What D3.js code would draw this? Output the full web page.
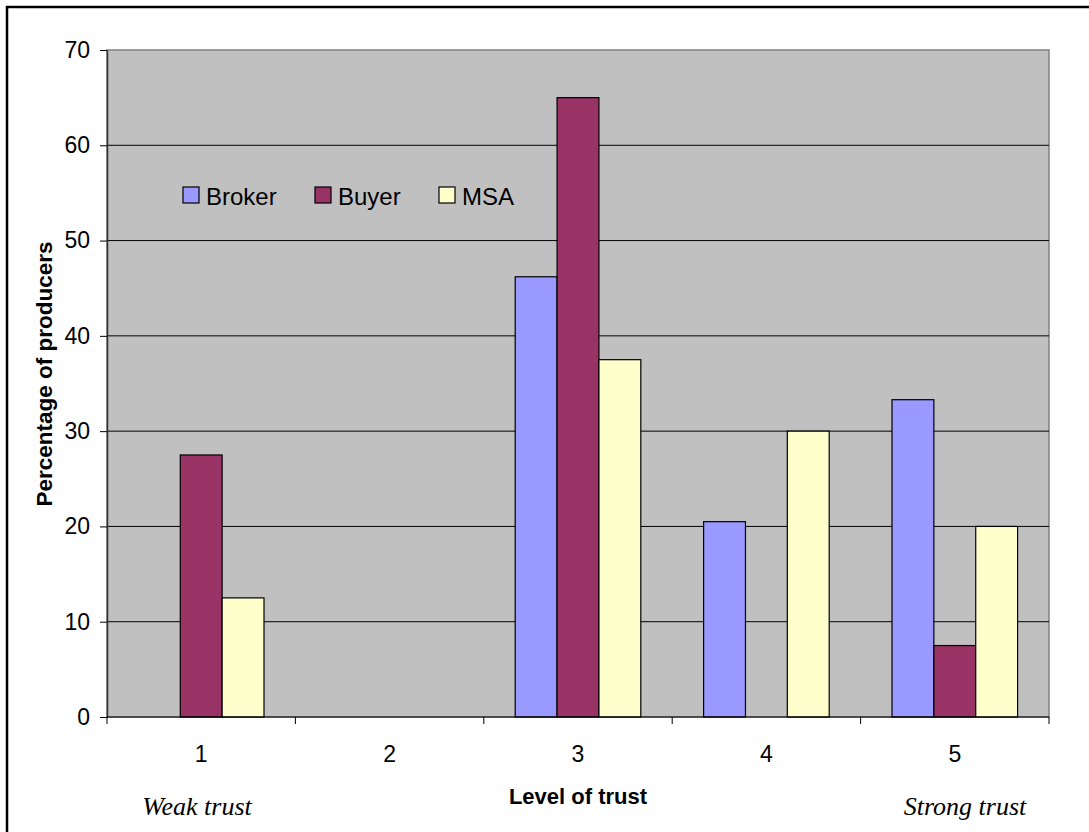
<!DOCTYPE html>
<html>
<head>
<meta charset="utf-8">
<script src="https://cdn.jsdelivr.net/npm/d3@7"></script>
<style>
  html, body { margin: 0; padding: 0; background: #fff; }
  svg { display: block; }
</style>
</head>
<body>
<script>
// Trust levels reported by producers for each market actor
const categories = ["1", "2", "3", "4", "5"];
const seriesNames = ["Broker", "Buyer", "MSA"];
const brokerValues = [0, 0, 46.2, 20.5, 33.3];
const buyerValues = [27.5, 0, 65, 0, 7.5];
const msaValues = [12.5, 0, 37.5, 30, 20];
const yTicks = [0, 10, 20, 30, 40, 50, 60, 70];
const seriesColors = ["#9999FF", "#993366", "#FFFFCC"];

const W = 1089, H = 832;
const plot = { left: 107, right: 1049, top: 50, bottom: 717 };

const svg = d3.select("body").append("svg").attr("width", W).attr("height", H);
svg.append("rect").attr("width", W).attr("height", H).attr("fill", "#fff");

// outer frame (runs off the right and bottom edges)
svg.append("rect")
  .attr("x", 7).attr("y", 7).attr("width", W + 20).attr("height", H + 20)
  .attr("fill", "none").attr("stroke", "#000").attr("stroke-width", 2.5);

const x = d3.scaleBand().domain(categories).range([plot.left, plot.right]).paddingInner(0).paddingOuter(0);
const xs = d3.scaleBand().domain(seriesNames).range([0, x.bandwidth()]).paddingInner(0).paddingOuter(0.75);
const y = d3.scaleLinear().domain([0, 70]).range([plot.bottom, plot.top]);

// plot background
svg.append("rect")
  .attr("x", plot.left).attr("y", plot.top)
  .attr("width", plot.right - plot.left).attr("height", plot.bottom - plot.top)
  .attr("fill", "#C0C0C0").attr("stroke", "#808080").attr("stroke-width", 1.5);

// horizontal gridlines
svg.append("g").selectAll("line")
  .data(yTicks.filter(t => t > 0 && t < 70))
  .join("line")
  .attr("x1", plot.left).attr("x2", plot.right)
  .attr("y1", d => y(d)).attr("y2", d => y(d))
  .attr("stroke", "#000").attr("stroke-width", 1);

// bars
const series = [brokerValues, buyerValues, msaValues];
const rows = [];
categories.forEach((c, i) => {
  seriesNames.forEach((s, j) => rows.push({ cat: c, name: s, value: series[j][i], color: seriesColors[j] }));
});
svg.append("g").selectAll("rect")
  .data(rows.filter(d => d.value > 0))
  .join("rect")
  .attr("x", d => x(d.cat) + xs(d.name))
  .attr("y", d => y(d.value))
  .attr("width", xs.bandwidth())
  .attr("height", d => y(0) - y(d.value))
  .attr("fill", d => d.color)
  .attr("stroke", "#000").attr("stroke-width", 1.2);

// y axis
const yAxis = d3.axisLeft(y).tickValues(yTicks).tickSize(7).tickPadding(10).tickSizeOuter(0);
const gy = svg.append("g").attr("transform", `translate(${plot.left},0)`).call(yAxis);
gy.select(".domain").attr("stroke", "#333").attr("stroke-width", 1.5);
gy.selectAll(".tick line").attr("stroke", "#000");
gy.selectAll(".tick text")
  .attr("font-family", "Liberation Sans, Arial, sans-serif")
  .attr("font-size", 23).attr("fill", "#000");

// x axis: ticks on band boundaries
const gx = svg.append("g");
gx.append("line")
  .attr("x1", plot.left).attr("x2", plot.right)
  .attr("y1", plot.bottom).attr("y2", plot.bottom)
  .attr("stroke", "#000").attr("stroke-width", 1.2);
const bounds = categories.map(c => x(c)).concat([x(categories[categories.length - 1]) + x.bandwidth()]);
gx.selectAll("line.tick").data(bounds).join("line").attr("class", "tick")
  .attr("x1", d => d).attr("x2", d => d)
  .attr("y1", plot.bottom).attr("y2", plot.bottom + 7)
  .attr("stroke", "#000");
gx.selectAll("text").data(categories).join("text")
  .attr("x", d => x(d) + x.bandwidth() / 2)
  .attr("y", 762)
  .attr("text-anchor", "middle")
  .attr("font-family", "Liberation Sans, Arial, sans-serif")
  .attr("font-size", 23)
  .text(d => d);

// axis titles
svg.append("text")
  .attr("transform", "translate(52,374) rotate(-90)")
  .attr("text-anchor", "middle")
  .attr("font-family", "Liberation Sans, Arial, sans-serif")
  .attr("font-size", 22.5).attr("font-weight", "bold")
  .text("Percentage of producers");

svg.append("text")
  .attr("x", 578).attr("y", 804)
  .attr("text-anchor", "middle")
  .attr("font-family", "Liberation Sans, Arial, sans-serif")
  .attr("font-size", 22).attr("font-weight", "bold")
  .text("Level of trust");

// scale end notes
const endNotes = [
  { text: "Weak trust", cx: 197 },
  { text: "Strong trust", cx: 965 }
];
svg.append("g").selectAll("text").data(endNotes).join("text")
  .attr("x", d => d.cx).attr("y", 815)
  .attr("text-anchor", "middle")
  .attr("font-family", "Liberation Serif, Times New Roman, serif")
  .attr("font-style", "italic").attr("font-size", 26)
  .text(d => d.text);

// legend
const legendX = [183, 315, 439];
const lg = svg.append("g");
seriesNames.forEach((s, i) => {
  lg.append("rect")
    .attr("x", legendX[i]).attr("y", 187).attr("width", 16).attr("height", 16)
    .attr("fill", seriesColors[i]).attr("stroke", "#000").attr("stroke-width", 1.2);
  lg.append("text")
    .attr("x", legendX[i] + 23).attr("y", 205)
    .attr("font-family", "Liberation Sans, Arial, sans-serif")
    .attr("font-size", 24)
    .text(s);
});
</script>
</body>
</html>
